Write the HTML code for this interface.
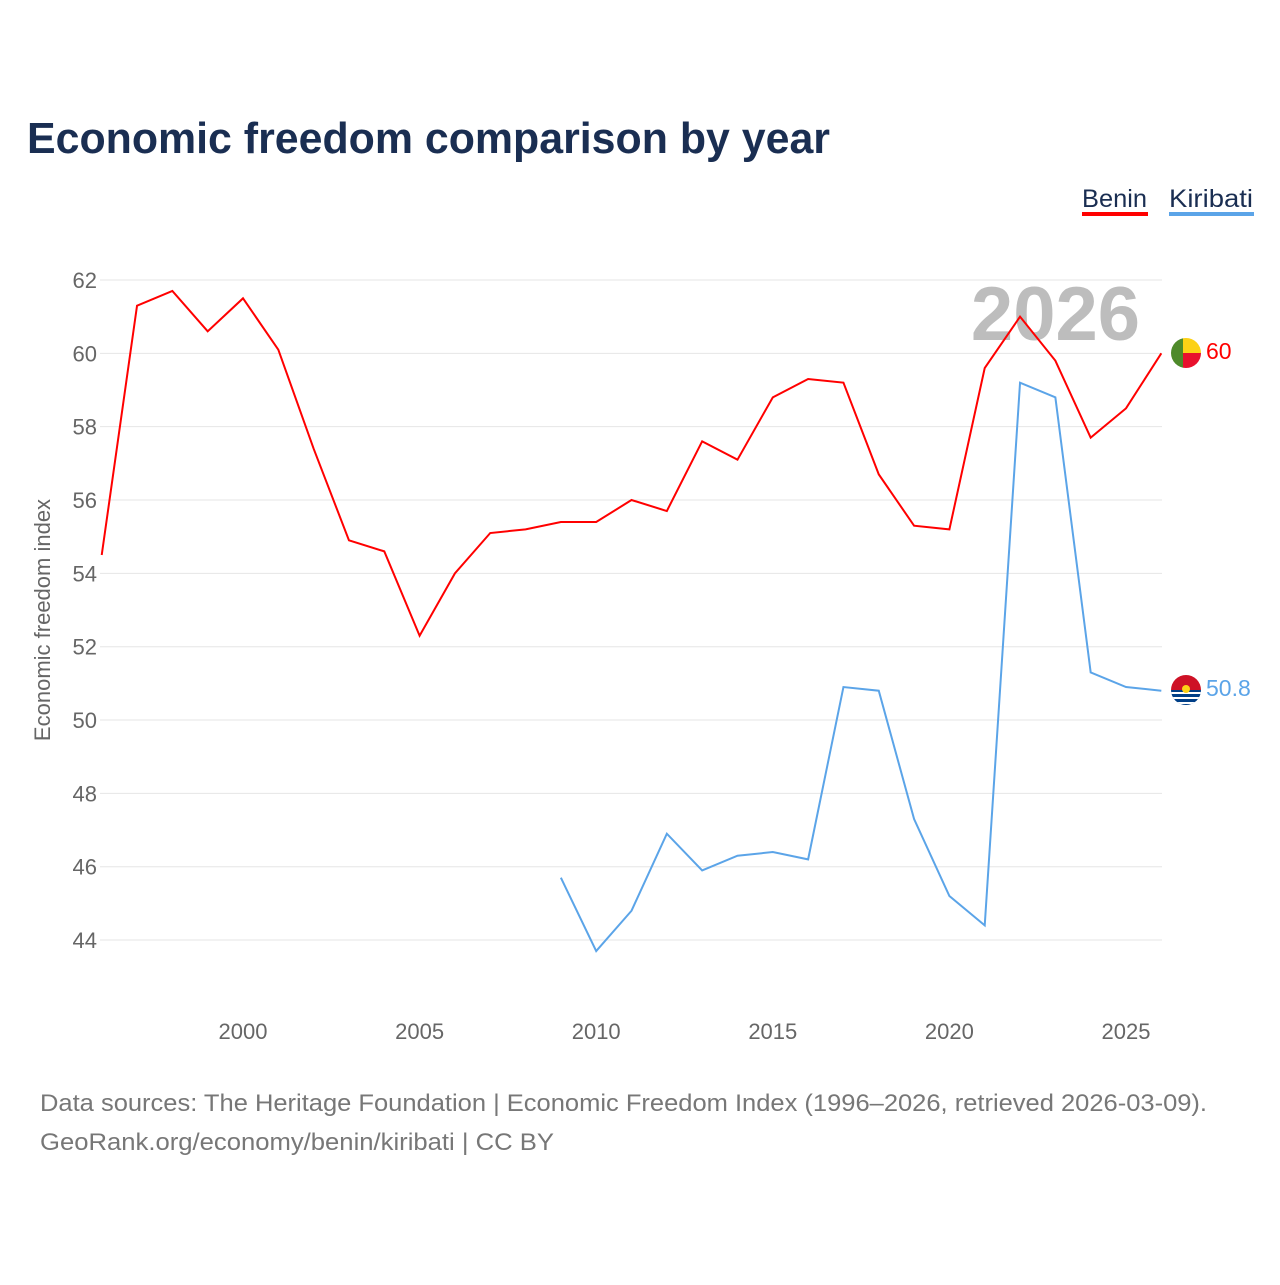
<!DOCTYPE html>
<html><head><meta charset="utf-8"><style>
body{margin:0;background:#fff;font-family:"Liberation Sans",sans-serif;}
</style></head><body>
<svg width="1280" height="1280" viewBox="0 0 1280 1280" xmlns="http://www.w3.org/2000/svg" font-family="Liberation Sans, sans-serif">
<text x="27" y="153" font-size="44" font-weight="bold" fill="#1a2e52" textLength="803" lengthAdjust="spacingAndGlyphs">Economic freedom comparison by year</text>
<g><text x="1082" y="207" font-size="25" fill="#1a2e52" textLength="65" lengthAdjust="spacingAndGlyphs">Benin</text><rect x="1082" y="212" width="66" height="4" fill="#ff0000"/></g>
<g><text x="1169" y="207" font-size="25" fill="#1a2e52" textLength="84" lengthAdjust="spacingAndGlyphs">Kiribati</text><rect x="1169" y="212" width="85" height="4" fill="#5ba4e8"/></g>
<text x="1140" y="340" font-size="76" font-weight="bold" fill="#bdbdbd" text-anchor="end">2026</text>
<g id="grid"></g><g id="yt"></g><g id="xt"></g><g id="series"></g>
<text transform="translate(50,620) rotate(-90)" font-size="22" fill="#666" text-anchor="middle">Economic freedom index</text>
<g>
<clipPath id="c1"><circle cx="1186" cy="353" r="15"/></clipPath>
<g clip-path="url(#c1)"><rect x="1171" y="338" width="12" height="30" fill="#4e8a2a"/><rect x="1183" y="338" width="18" height="15" fill="#fcd116"/><rect x="1183" y="353" width="18" height="15" fill="#e8112d"/></g></g>
<g>
<clipPath id="c2"><circle cx="1186" cy="690" r="15"/></clipPath>
<g clip-path="url(#c2)"><rect x="1171" y="675" width="30" height="15" fill="#ce1126"/><rect x="1171" y="690" width="30" height="15" fill="#003f87"/><path d="M1171 693h30M1171 698h30M1171 703h30" stroke="#fff" stroke-width="2"/><circle cx="1186" cy="689" r="4" fill="#fcd116"/></g></g>
<text x="1206" y="359" font-size="23" fill="#ff0000">60</text>
<text x="1206" y="696" font-size="23" fill="#5ba4e8">50.8</text>
<text x="40" y="1111" font-size="24" fill="#777" textLength="1167" lengthAdjust="spacingAndGlyphs">Data sources: The Heritage Foundation | Economic Freedom Index (1996–2026, retrieved 2026-03-09).</text>
<text x="40" y="1150" font-size="24" fill="#777" textLength="514" lengthAdjust="spacingAndGlyphs">GeoRank.org/economy/benin/kiribati | CC BY</text>
</svg>
<script>
const years=[1996,1997,1998,1999,2000,2001,2002,2003,2004,2005,2006,2007,2008,2009,2010,2011,2012,2013,2014,2015,2016,2017,2018,2019,2020,2021,2022,2023,2024,2025,2026];
const benin=[54.5,61.3,61.7,60.6,61.5,60.1,57.4,54.9,54.6,52.3,54.0,55.1,55.2,55.4,55.4,56.0,55.7,57.6,57.1,58.8,59.3,59.2,56.7,55.3,55.2,59.6,61.0,59.8,57.7,58.5,60.0];
const kiriYears=[2009,2010,2011,2012,2013,2014,2015,2016,2017,2018,2019,2020,2021,2022,2023,2024,2025,2026];
const kiribati=[45.7,43.7,44.8,46.9,45.9,46.3,46.4,46.2,50.9,50.8,47.3,45.2,44.4,59.2,58.8,51.3,50.9,50.8];
const yTicks=[44,46,48,50,52,54,56,58,60,62];
const xTicks=[2000,2005,2010,2015,2020,2025];
const NS="http://www.w3.org/2000/svg";
const X=y=>243+(y-2000)*35.32;
const Y=v=>280+(62-v)*36.67;
function mk(t,a,p){const e=document.createElementNS(NS,t);for(const k in a)e.setAttribute(k,a[k]);p.appendChild(e);return e;}
const grid=document.getElementById('grid'),yt=document.getElementById('yt'),xt=document.getElementById('xt'),ser=document.getElementById('series');
yTicks.forEach(v=>{
const l=mk('line',{x1:100,x2:1162,y1:Y(v),y2:Y(v),stroke:'#e6e6e6','stroke-width':1},grid);


const t=mk('text',{x:97,y:Y(v)+8,'font-size':22,fill:'#666','text-anchor':'end'},yt);t.textContent=v;


});
xTicks.forEach(v=>{
const t=mk('text',{x:X(v),y:1039,'font-size':22,fill:'#666','text-anchor':'middle'},xt);t.textContent=v;


});
const pb=mk('polyline',{points:years.map((y,i)=>X(y)+','+Y(benin[i])).join(' '),fill:'none',stroke:'#ff0000','stroke-width':2},ser);


const pk=mk('polyline',{points:kiriYears.map((y,i)=>X(y)+','+Y(kiribati[i])).join(' '),fill:'none',stroke:'#5ba4e8','stroke-width':2},ser);


</script>
</body></html>
